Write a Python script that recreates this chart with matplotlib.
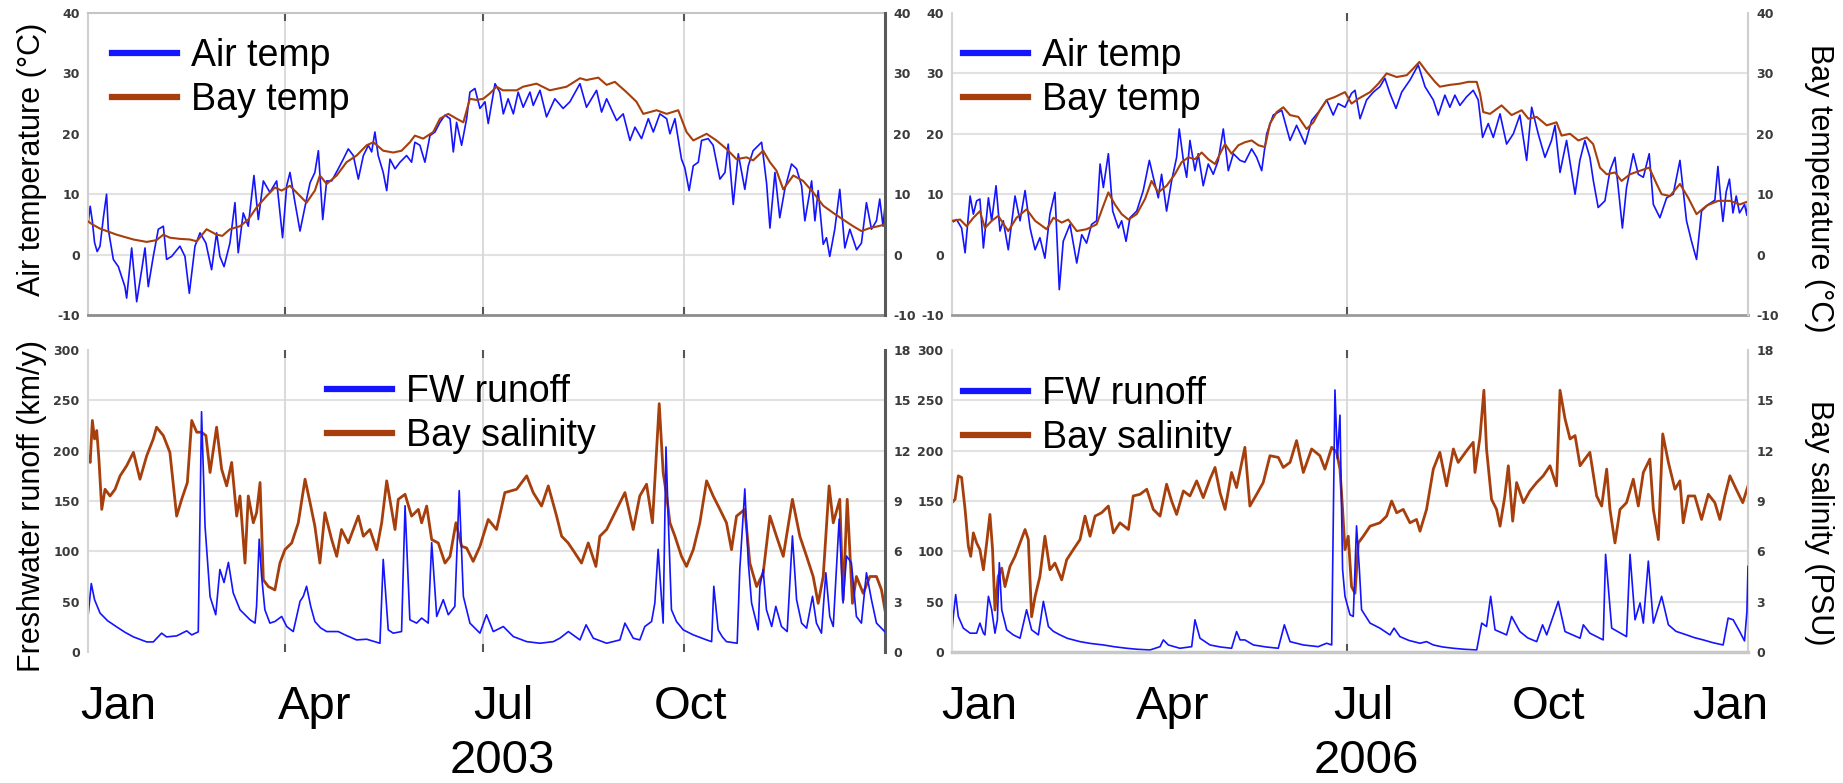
"""Air/bay temperature and runoff/salinity panels for 2003 and 2006."""

import matplotlib

matplotlib.use("Agg")
import numpy as np
from matplotlib import pyplot as plt
from matplotlib.lines import Line2D

# (day of year, value)
air_2003 = [
    (0, 5.0), (1, 8.0), (2, 5.5), (3, 2.0), (4.2, 0.5), (5.5, 1.4), (7, 6.0), (8.5, 10.0), (9.3, 4.2),
    (11.6, -0.8), (13.9, -2.0), (16.9, -5.3), (17.7, -7.2), (20, 1.1), (22.3, -7.8), (24.6, -2.5),
    (26.1, 1.1), (27.6, -5.3), (29.9, -0.3), (32.2, 4.2), (34.5, 4.7), (36, -0.8), (38.3, -0.3),
    (42.1, 1.4), (44.4, -0.3), (46.4, -6.4), (49, 1.4), (51.3, 3.6), (54, 1.9), (56.6, -2.5),
    (58.9, 3.6), (60.4, -0.3), (62.3, -2.0), (65, 1.9), (67.3, 8.6), (68.8, 0.3), (71.1, 6.9),
    (73.4, 4.7), (76, 13.1), (78, 5.8), (80.3, 12.2), (83.3, 10.3), (86.4, 12.2), (89.1, 2.8),
    (91, 11.4), (92.5, 13.6), (94.8, 8.6), (97.1, 3.9), (100.1, 9.2), (101.7, 11.9), (103.9, 13.6),
    (105.5, 17.2), (107.5, 5.8), (109.3, 12.2), (111.6, 12.2), (114.6, 14.2), (116.9, 15.8),
    (119.2, 17.5), (121.5, 16.4), (123.8, 12.5), (126.1, 16.4), (128.4, 18.1), (129.9, 17.0),
    (131.4, 20.3), (132.9, 16.4), (135.2, 13.6), (136.8, 10.6), (138.3, 15.8), (140.6, 14.2),
    (142.9, 15.3), (145.9, 16.4), (148.2, 15.3), (149.7, 18.6), (152, 18.1), (154.3, 15.3),
    (156.6, 19.7), (158.9, 20.3), (161.2, 21.9), (163.5, 23.1), (165.8, 22.5), (167.3, 17.0),
    (168.8, 21.9), (171.1, 18.1), (173.4, 22.5), (174.9, 26.9), (177.2, 27.5), (179.5, 24.2),
    (181.8, 25.3), (183.3, 21.7), (186.4, 28.3), (188.6, 26.9), (190.2, 23.3), (192.4, 25.8),
    (194.8, 23.3), (197, 26.9), (199.3, 24.4), (202.4, 26.9), (203.9, 24.7), (207, 27.2),
    (210, 22.8), (213.8, 25.8), (217.6, 24.2), (220.7, 25.3), (225.3, 28.3), (228.3, 24.4),
    (232.9, 27.2), (235.2, 23.6), (237.5, 25.8), (242.1, 22.2), (245.1, 23.3), (248.2, 18.9),
    (250.5, 21.1), (253.5, 19.2), (256.6, 22.5), (258.9, 20.3), (261.9, 23.3), (265, 22.5),
    (266.5, 20.0), (268.8, 22.5), (271.8, 15.8), (273.3, 14.4), (275.3, 10.6), (277.2, 14.7),
    (279.5, 15.3), (281, 18.9), (284, 19.2), (286.3, 18.1), (289.4, 12.5), (291.7, 13.6),
    (293.2, 18.3), (295.5, 8.3), (297.8, 16.7), (300.8, 10.8), (302.4, 14.7), (304.6, 17.2),
    (308.5, 18.6), (310.8, 11.7), (312.3, 4.4), (314.6, 13.6), (316.8, 6.1), (319.1, 10.8),
    (322.2, 15.0), (324.5, 14.2), (326.8, 11.4), (328.3, 5.6), (331.4, 12.2), (332.9, 5.6),
    (334.4, 10.6), (336.7, 1.7), (338.2, 2.8), (339.7, -0.3), (342, 4.2), (344.3, 10.8),
    (346.6, 1.1), (348.9, 4.2), (352, 0.8), (354.2, 1.9), (356.5, 8.6), (358.8, 4.2),
    (361.1, 5.6), (362.6, 9.2), (364.1, 4.7), (365, 8.1),
]
bay_2003 = [
    (0, 5.5), (2, 5.0), (5.5, 4.3), (13.1, 3.3), (20.8, 2.5), (26.9, 2.1), (31.4, 2.4), (34.5, 3.3),
    (37.5, 2.8), (42.1, 2.6), (46.7, 2.5), (49.8, 2.2), (54.3, 4.2), (58.9, 3.3), (61.5, 3.1),
    (65, 4.2), (69.6, 4.7), (73.4, 5.8), (77.2, 7.8), (81.8, 9.7), (85.6, 11.1), (88.7, 10.6),
    (92.5, 11.4), (97.1, 9.7), (100.1, 8.6), (103.9, 10.6), (106.2, 13.1), (109.3, 11.7),
    (113.9, 13.1), (118.4, 15.3), (123, 16.4), (127.6, 18.1), (130.7, 18.6), (135.2, 17.2),
    (139.8, 16.9), (143.6, 17.2), (147.4, 18.6), (149.7, 19.7), (153.5, 19.2), (158.1, 20.3),
    (161.2, 22.5), (165, 23.3), (168.8, 22.5), (171.9, 21.9), (174.9, 25.8), (177.9, 25.6),
    (181, 25.8), (184.1, 26.7), (187.1, 27.8), (190, 27.2), (196.3, 27.2), (199.3, 27.8),
    (205.4, 28.3), (211.5, 27.2), (219.2, 27.8), (225.3, 29.2), (228.3, 28.9), (233.7, 29.3),
    (237.5, 28.1), (241.3, 28.6), (246.6, 26.9), (251.2, 25.3), (254.3, 23.3), (260.4, 23.9),
    (265, 23.3), (270.3, 23.9), (274.1, 20.3), (277.2, 18.9), (283.3, 20.0), (287.8, 18.9),
    (292.4, 17.5), (297, 15.8), (301.6, 16.1), (304.6, 15.6), (309.2, 17.2), (312.3, 15.3),
    (315.3, 13.9), (318.4, 10.8), (323, 13.1), (327.5, 12.2), (332.1, 10.3), (336.7, 8.1),
    (341.3, 6.9), (345.8, 5.8), (350.4, 4.7), (354.2, 3.9), (358.1, 4.4), (361.9, 4.7), (365, 5.0),
]
runoff_2003 = [
    (0, 35), (1.5, 68), (3, 52), (5.5, 38.7), (9, 31), (13.1, 25), (17, 19.5), (20.8, 15),
    (26.9, 10), (29.9, 10), (33.7, 18.7), (36, 15), (40.6, 16), (45.2, 21), (47.5, 17), (50.5, 20),
    (52, 238.7), (53.6, 125), (55.9, 55), (58.5, 37), (60.4, 82), (62.3, 69), (64.3, 89),
    (66.5, 58.7), (69.6, 42), (74.2, 32), (76.5, 28.7), (77.2, 45.3), (78.4, 112), (79.5, 75.3),
    (81, 42), (83.3, 28.7), (85.6, 30.3), (88.7, 35.3), (91, 25.3), (94, 20.3), (97.1, 50.3),
    (98.6, 55.3), (100.1, 65.3), (102, 45.3), (103.9, 30.3), (106.5, 24), (109.3, 20.3),
    (114.6, 20.3), (117.7, 17), (123, 12), (127.6, 12.7), (133.7, 8.7), (135.2, 92), (137.5, 22),
    (139.8, 18.7), (143.6, 20.3), (145.2, 145.3), (147.4, 32), (150.5, 28.7), (152.8, 33.7),
    (155.8, 28.7), (157.4, 108.7), (159.7, 35.3), (162.7, 52), (165, 37), (168, 45.3),
    (170, 160.3), (171.9, 55.3), (174.9, 28.7), (179.5, 18.7), (182.5, 37), (185.6, 20.3),
    (190.2, 25.3), (194.8, 15.3), (200.9, 10.3), (207, 8.7), (213.1, 10.3), (216.1, 13.7),
    (220, 20.3), (225.3, 12), (228.1, 27), (231.4, 13.7), (237.5, 8.7), (243.6, 12),
    (245.9, 28.7), (249.7, 13.7), (252.7, 12), (255, 25.3), (258.1, 30.3), (259.6, 48.7),
    (261.1, 102), (263.4, 28.7), (264.7, 203.7), (265.7, 135.3), (267.2, 42), (269.5, 30.3),
    (272.6, 22), (277.2, 17), (283.3, 12), (285.6, 10.3), (286.6, 65.3), (288.6, 22),
    (290.5, 15), (292.4, 10.3), (297.3, 8.7), (298.5, 82), (300.8, 162), (302.4, 88.7),
    (303.9, 48.7), (306.9, 22), (307.7, 65.3), (309.2, 82), (310.7, 42), (313.1, 25.3),
    (315, 45.3), (317.6, 25.3), (320.2, 20.3), (322.6, 115.3), (324.5, 52), (326.8, 28.7),
    (329.1, 23.7), (331.8, 55.3), (333.6, 28.7), (335.9, 18.7), (337.9, 78.7), (339.7, 35.3),
    (341.3, 25.3), (344, 132), (345.8, 48.7), (347.4, 95.3), (349.6, 88.7), (351.9, 35.3),
    (354.2, 28.7), (356.5, 78.7), (358.8, 52), (361.1, 28.7), (364.1, 22), (365, 20),
]
salinity_2003 = [
    (0, 11.7), (1, 11.3), (2, 13.8), (3, 12.7), (4, 13.2), (5, 11.5), (6.3, 8.5), (7.8, 9.7),
    (10.1, 9.3), (12.4, 9.7), (14.7, 10.5), (17.7, 11.1), (20.8, 11.9), (23.8, 10.3), (26.9, 11.7),
    (29.9, 12.7), (31.4, 13.4), (34.5, 12.9), (37.5, 11.9), (40.6, 8.1), (42.9, 9.1), (45.5, 10.1),
    (47.5, 13.8), (49.8, 13.1), (52, 13.1), (54, 12.9), (55.9, 10.7), (58.9, 13.4), (61.2, 10.9),
    (63.5, 9.9), (65.8, 11.3), (68.1, 8.1), (69.6, 9.3), (71.9, 5.3), (73.4, 9.3), (75.7, 7.7),
    (77.2, 8.3), (78.8, 10.1), (80.3, 4.3), (82.6, 3.9), (85.6, 3.7), (87.9, 5.3), (90.2, 6.1),
    (93.3, 6.5), (96.3, 7.7), (99.4, 10.3), (101.7, 8.9), (103.9, 7.5), (106.2, 5.3), (108.5, 8.3),
    (111.6, 6.7), (113.9, 5.7), (116.1, 7.3), (119.2, 6.5), (121.5, 7.3), (123.8, 8.1),
    (126.1, 6.9), (129.1, 7.3), (132.2, 6.1), (134.5, 7.7), (136.8, 10.2), (139, 8.5),
    (140.6, 7.3), (142.1, 9.1), (145.2, 9.4), (148.2, 8.1), (151.3, 8.5), (152.8, 7.7),
    (155.1, 8.7), (157.4, 6.7), (160.4, 6.5), (163.5, 5.3), (165.8, 5.7), (168.5, 7.7),
    (171.1, 6.3), (173.4, 6.2), (176.4, 5.4), (179.5, 6.3), (183.3, 7.9), (187.1, 7.3),
    (190.9, 9.5), (196.3, 9.7), (200.9, 10.5), (203.9, 9.5), (207.7, 8.7), (210.8, 9.9),
    (214.6, 8.1), (216.9, 6.9), (219.9, 6.5), (223, 5.9), (226, 5.3), (229.1, 6.5), (232.6, 5.1),
    (234.4, 6.9), (237.5, 7.3), (242.1, 8.5), (245.9, 9.5), (249.7, 7.3), (252.7, 9.3),
    (255.8, 10.0), (258.5, 7.7), (260.4, 12.1), (261.6, 14.8), (263.4, 10.7), (265, 9.3),
    (266.5, 7.7), (268.8, 6.9), (271.8, 5.7), (274.1, 5.1), (277.2, 6.1), (280.2, 7.7),
    (283.3, 10.2), (286.3, 9.3), (289.4, 8.5), (292.4, 7.7), (294.7, 6.1), (297, 8.1),
    (300.8, 8.5), (303.1, 5.3), (306.2, 3.9), (309.2, 4.7), (312.3, 8.1), (315.3, 6.9),
    (318.4, 5.7), (322.6, 9.1), (326, 6.9), (329.1, 5.7), (332.1, 4.5), (334.4, 2.9),
    (336.7, 4.5), (339.4, 9.9), (341.3, 7.7), (344.3, 9.1), (345.8, 3.1), (347.7, 9.1),
    (350.1, 2.9), (351.9, 4.5), (355, 3.5), (358.1, 4.5), (361.1, 4.5), (363.4, 3.7), (365, 2.5),
]
air_2006 = [
    (0, 5.3), (2.1, 5.8), (4.4, 4.4), (6, 0.3), (8.3, 9.7), (9.8, 6.7), (11.3, 8.9), (12.8, 9.2),
    (14.4, 1.1), (16.7, 9.4), (18.2, 5.6), (20.2, 11.4), (22, 3.9), (23.5, 5.6), (25.8, 0.8),
    (28.9, 9.7), (31.2, 5.6), (33.5, 10.6), (35.8, 4.4), (38.1, 0.8), (40.3, 2.8), (42.6, -0.6),
    (44.9, 6.7), (47.2, 10.3), (49.2, -5.8), (51, 2.2), (54.1, 5.0), (57.2, -1.4), (59.5, 3.3),
    (61.7, 1.9), (64, 5.0), (66.3, 5.6), (67.9, 15.0), (69.4, 11.1), (71.7, 16.7), (73.7, 7.2),
    (76.3, 4.4), (77.8, 5.6), (79.8, 2.2), (81.6, 6.1), (84.7, 7.2), (87.7, 10.6), (90.5, 15.6),
    (92.3, 12.8), (94.6, 9.4), (96.1, 13.3), (98.4, 7.2), (100.7, 12.2), (103, 16.1),
    (104.2, 20.8), (106.1, 15.6), (107.6, 12.8), (109.1, 18.9), (111.4, 13.9), (112.9, 16.7),
    (115.2, 11.4), (117.5, 15.0), (119.8, 13.3), (122.1, 15.6), (124.4, 20.8), (126.7, 13.9),
    (129, 16.7), (132.1, 15.6), (134.3, 15.3), (137.4, 17.5), (139.7, 16.1), (142, 13.9),
    (144.3, 20.0), (147.3, 23.1), (151.2, 23.9), (155, 18.9), (158, 21.4), (161.9, 18.3),
    (164.9, 22.2), (168.7, 23.9), (171.8, 25.6), (174.8, 23.1), (177.1, 25.0), (180.2, 24.4),
    (183.2, 26.7), (184.8, 27.2), (187.1, 22.5), (190.1, 25.6), (193.2, 26.9), (196.2, 27.8),
    (198.5, 29.2), (200.8, 26.7), (203.6, 24.2), (206.2, 26.9), (210, 28.9), (213.8, 31.4),
    (216.9, 27.8), (220.7, 25.6), (223, 23.1), (226, 26.4), (228.3, 24.4), (230.6, 26.4),
    (232.9, 24.7), (235.9, 26.1), (239, 27.2), (241.3, 25.6), (243.3, 19.4), (245.9, 21.7),
    (248.2, 19.4), (251.3, 23.3), (254.3, 18.3), (257.4, 20.0), (260.4, 23.1), (263.5, 15.6),
    (265.8, 24.4), (268.8, 20.0), (271.9, 16.1), (274.9, 18.9), (276.5, 21.4), (278.8, 13.6),
    (281.8, 18.9), (285.7, 10.0), (287.9, 15.6), (290.2, 18.9), (292.5, 16.1), (294.1, 12.2),
    (296.3, 7.8), (299.4, 8.9), (301.7, 13.9), (304, 16.1), (305.5, 11.1), (307.4, 4.4),
    (309.3, 11.1), (312.4, 16.7), (314.7, 13.3), (317, 12.8), (319.7, 16.7), (321.6, 8.3),
    (324.6, 6.1), (327.7, 9.4), (330.7, 10.0), (333.8, 15.6), (336.8, 5.6), (339.1, 2.2),
    (341.4, -0.8), (343.7, 7.2), (346.8, 8.3), (349.8, 9.0), (351.2, 14.6), (352.7, 8.3),
    (353.5, 5.5), (355, 10.4), (356.5, 12.5), (358.1, 6.9), (359.6, 9.7), (361.1, 6.9),
    (363.4, 8.3), (364.5, 6.5), (365, 9.4),
]
bay_2006 = [
    (0, 5.6), (3.7, 5.8), (6.7, 4.7), (9.8, 6.1), (12.8, 7.2), (15.1, 4.4), (18.2, 5.6), (21.2, 6.4),
    (25.8, 3.9), (29.6, 6.1), (34.2, 7.5), (38.1, 5.6), (43.4, 4.2), (46.5, 6.1), (50.3, 5.3),
    (53.3, 5.8), (57.2, 3.9), (61.7, 4.2), (66.3, 5.0), (69.1, 7.8), (71.7, 10.3), (74.7, 8.3),
    (77.8, 6.7), (80.9, 5.8), (84.7, 6.7), (88.5, 9.2), (91.5, 12.2), (94.6, 10.3), (98.4, 11.4),
    (102.2, 13.3), (105.3, 15.3), (108.4, 16.1), (111.4, 15.8), (114.5, 16.9), (117.5, 15.8),
    (120.6, 15.0), (123.6, 17.2), (125.2, 18.3), (128.2, 16.7), (131.3, 18.1), (134.3, 18.6),
    (137.4, 18.9), (140.5, 18.1), (143.5, 17.8), (145.8, 21.7), (148.9, 23.6), (151.9, 24.4),
    (155, 23.1), (158.8, 22.8), (162.6, 20.8), (165.7, 21.9), (168.7, 23.9), (171.8, 25.6),
    (175.6, 26.1), (180.2, 26.9), (183.2, 25.0), (186.3, 25.8), (191.7, 26.9), (195.5, 28.3),
    (199.3, 30.0), (203.9, 29.4), (208.5, 29.7), (211.5, 30.8), (214.3, 31.9), (217.6, 30.3),
    (221.5, 28.6), (223.7, 27.8), (228.3, 28.1), (232.9, 28.3), (236.7, 28.6), (240.6, 28.6),
    (242.1, 26.7), (243.6, 23.6), (246.7, 23.3), (252, 24.7), (256.6, 23.1), (261.2, 23.9),
    (264.3, 22.5), (268.1, 22.8), (272.7, 21.4), (277.2, 21.9), (279.5, 19.7), (283.4, 20.0),
    (287.2, 18.9), (291, 19.4), (294, 18.3), (297.1, 14.4), (300.2, 13.3), (304, 13.6),
    (307, 12.2), (310.9, 13.3), (315.6, 13.9), (319.7, 14.4), (323.1, 11.7), (325.4, 10.0),
    (329.2, 9.7), (333.8, 11.7), (337.6, 9.4), (341.4, 6.7), (346, 8.1), (351.3, 8.9),
    (356.7, 8.9), (361.2, 8.3), (365, 8.8),
]
runoff_2006 = [
    (0, 20.3), (0.6, 35.3), (1.7, 57), (2.9, 35.3), (5.2, 23.7), (8.3, 18.7), (11.3, 18.7),
    (12.8, 28.7), (14.4, 18.7), (15.1, 17), (16.7, 55.3), (18.2, 42), (19.7, 18.7), (20.8, 32),
    (21.7, 88.7), (22.8, 42), (25.1, 22), (28.1, 17), (31.2, 13.7), (34.2, 42), (36.5, 22),
    (39.6, 17), (41.9, 50.3), (44.2, 25.3), (46.5, 20.5), (49.5, 17), (53, 13.5), (58.7, 10.3),
    (63.5, 8.5), (69.4, 7), (74.5, 5.2), (80.1, 3.7), (85, 2.7), (90.8, 2), (95.4, 5.3),
    (96.9, 12), (99.2, 7), (104.5, 3.7), (109.9, 5.3), (111.4, 32), (113.7, 13.7), (118.3, 7),
    (123, 5), (128.2, 3.7), (130.5, 20.3), (132.1, 12), (134.3, 12), (138.2, 7), (144, 5),
    (149.6, 3.7), (152.4, 27), (155, 10.3), (161.1, 7), (167.9, 5.3), (171.8, 8.7), (174.1, 7),
    (175.6, 260.3), (176.7, 192), (177.9, 235.3), (179.1, 82), (180.2, 55.3), (182.5, 37),
    (184, 35.3), (185.5, 125.3), (186.8, 82), (187.8, 42), (191.7, 28.7), (196.2, 23.7),
    (200.8, 17), (202.7, 23.7), (205.4, 15.3), (209.5, 11.5), (214.6, 8.7), (217.6, 10.3),
    (220.7, 7), (225, 5), (229.9, 3.7), (235, 2.7), (240.6, 2), (242.9, 28.7), (245.1, 25.3),
    (247, 55.3), (249, 22), (254.3, 17), (256.6, 35.3), (260.4, 20.3), (264, 14), (268.1, 10.3),
    (270.8, 27), (272.7, 17), (278, 50.3), (281.1, 20.3), (288, 13.7), (289.5, 27), (292.5, 18.7),
    (298.6, 12), (299.7, 97), (302.5, 23.7), (309.3, 15.3), (310.9, 97), (313.2, 32),
    (315.5, 48.7), (317, 28.7), (319.3, 90.3), (321.6, 28.7), (325.4, 55.3), (328.5, 27),
    (332, 20.5), (336.8, 17), (340.5, 14.2), (344.5, 12), (349, 9.2), (353.6, 7), (355.9, 33.7),
    (358.2, 32), (361.2, 20.3), (363.4, 11), (364.5, 40), (365, 85),
]
salinity_2006 = [
    (0, 8.9), (1.4, 9.1), (2.9, 10.5), (4.4, 10.4), (6, 8.5), (7.5, 6.3), (8.6, 5.7), (9.8, 7.1),
    (11.3, 6.5), (12.8, 6.1), (14.4, 4.9), (15.9, 6.5), (17.4, 8.2), (18.6, 6.1), (19.7, 2.5),
    (21.2, 4.5), (22.8, 5.0), (24.3, 3.9), (26.6, 5.1), (28.9, 5.7), (31.2, 6.5), (33.5, 7.3),
    (35, 6.7), (36.5, 2.1), (38.1, 3.3), (40.3, 4.5), (42.6, 6.9), (44.9, 4.9), (47.2, 5.3),
    (50.3, 4.3), (52.6, 5.5), (55.6, 6.1), (58.7, 6.7), (61, 8.1), (63.3, 6.9), (65.6, 8.1),
    (68.6, 8.3), (71.7, 8.7), (74, 7.1), (77, 7.7), (80.9, 7.3), (83.1, 9.3), (86.2, 9.4),
    (89.3, 9.7), (92.3, 8.5), (95.4, 8.1), (98.4, 10.0), (100.7, 9.0), (103, 8.2), (106.1, 9.6),
    (109.1, 9.3), (112.2, 10.2), (115.2, 9.2), (118.3, 10.3), (120.6, 11.0), (122.9, 9.5),
    (125.2, 8.5), (128.2, 10.7), (130.5, 9.8), (134.3, 12.2), (136.6, 8.7), (139.7, 9.4),
    (142.7, 10.1), (145.8, 11.7), (149.6, 11.6), (151.9, 11.0), (155, 11.3), (158, 12.6),
    (161.1, 10.7), (164.9, 12.1), (168.7, 11.7), (171, 10.9), (174.1, 12.2), (176.4, 11.9),
    (177.9, 10.9), (179.1, 8.5), (180.2, 6.1), (181.7, 6.9), (183.2, 3.9), (184.8, 3.5),
    (186.3, 6.5), (188.6, 6.9), (191.7, 7.5), (196.2, 7.7), (199.3, 8.1), (201.6, 9.0),
    (203.9, 8.3), (206.9, 8.5), (210, 7.7), (213, 7.9), (214.6, 7.2), (217.6, 8.5), (220.7, 10.9),
    (223.7, 11.9), (226.8, 9.9), (229.9, 12.1), (232.1, 11.3), (236, 12.0), (239, 12.5),
    (239.8, 10.7), (242.1, 12.8), (243.9, 15.6), (245.1, 12.1), (247.4, 9.1), (249.7, 8.5),
    (251.3, 7.5), (253.5, 9.3), (255.1, 11.1), (257.1, 7.8), (258.9, 10.1), (262, 8.9),
    (265, 9.6), (268.1, 10.1), (271.1, 10.5), (274.2, 11.1), (277.2, 9.9), (278.8, 15.6),
    (281.1, 13.9), (283.4, 12.7), (285.7, 12.9), (288, 11.1), (290.2, 11.5), (292.5, 11.9),
    (295.6, 9.3), (297.9, 8.7), (300.2, 10.9), (301.7, 8.5), (304, 6.5), (306.3, 8.5),
    (309.3, 8.9), (312.4, 10.3), (314.7, 8.7), (317, 10.7), (320, 11.5), (321.6, 8.5),
    (323.9, 6.7), (325.9, 13.0), (328.5, 11.3), (331.5, 9.7), (333.8, 10.2), (335.3, 7.7),
    (337.6, 9.3), (340.6, 9.3), (343.7, 7.9), (346.8, 9.4), (349.8, 8.9), (352.1, 7.9),
    (354.4, 9.3), (356.7, 10.5), (359.6, 9.7), (362.6, 8.9), (365, 9.9),
]

month_labels_2003 = ["Jan", "Apr", "Jul", "Oct"]
month_labels_2006 = ["Jan", "Apr", "Jul", "Oct", "Jan"]
years = ["2003", "2006"]

temp_ticks = [-10, 0, 10, 20, 30, 40]
runoff_ticks = [0, 50, 100, 150, 200, 250, 300]
salinity_ticks = [0, 3, 6, 9, 12, 15, 18]

BLUE = "#1414ff"
BROWN = "#a63f0c"
W, H = 1843, 783


def unzip(pairs):
    d, v = zip(*pairs)
    return np.array(d), np.array(v)


def px_axes(fig, x0, y0, x1, y1):
    return fig.add_axes([x0 / W, 1 - y1 / H, (x1 - x0) / W, (y1 - y0) / H])


def style_ticks(ax, ticks, side):
    ax.set_yticks(ticks, labels=[str(t) for t in ticks], fontsize=9,
                  fontweight="bold", color="#3a3a3a", family="DejaVu Sans")
    ax.tick_params(axis="y", which="both", length=0, pad=6,
                   left=(side == "left"), right=(side == "right"),
                   labelleft=(side == "left"), labelright=(side == "right"))


def setup_x(ax, vgrid):
    ax.set_xlim(0, 365)
    ax.set_xticks(vgrid)
    ax.tick_params(axis="x", direction="in", length=6, width=1.5, color="#555555",
                   top=True, bottom=True, labelbottom=False)


def draw_panel(ax, tw, blue, brown, host_lim, host_ticks, twin_lim, twin_ticks,
               hgrid, vgrid, grid_ax, spines, blue_on_top, brown_lw):
    d1, v1 = unzip(blue)
    d2, v2 = unzip(brown)
    ax.plot(d1, v1, color=BLUE, lw=1.2)
    tw.plot(d2, v2, color=BROWN, lw=brown_lw)
    ax.set_ylim(*host_lim)
    tw.set_ylim(*twin_lim)
    style_ticks(ax, host_ticks, "left")
    style_ticks(tw, twin_ticks, "right")
    setup_x(ax, vgrid)
    tw.tick_params(axis="x", length=0)
    for v in hgrid:
        grid_ax.axhline(v, color="#e2e2e2", lw=1.5, zorder=0)
    for d in vgrid:
        grid_ax.axvline(d, color="#d8d8d8", lw=1.3, zorder=0)
    for s in ["top", "bottom", "left", "right"]:
        ax.spines[s].set_visible(False)
        tw.spines[s].set_visible(False)
    for s, (c, lw) in spines.items():
        owner = tw if s == "right" else ax
        owner.spines[s].set_visible(True)
        owner.spines[s].set_color(c)
        owner.spines[s].set_linewidth(lw)
    if blue_on_top:
        ax.set_zorder(tw.get_zorder() + 1)
        ax.patch.set_visible(False)


def add_legend(ax, labels, x, y):
    handles = [Line2D([], [], color=BLUE, lw=4.5), Line2D([], [], color=BROWN, lw=4.5)]
    leg = ax.legend(handles, labels, loc="upper left", bbox_to_anchor=(x / W, 1 - y / H),
                    bbox_transform=ax.figure.transFigure, frameon=False, borderpad=0,
                    borderaxespad=0, handlelength=1.72, handletextpad=0.38,
                    labelspacing=0.22, prop={"family": "Liberation Sans", "size": 27})
    leg.set_zorder(20)


fig = plt.figure(figsize=(W / 100, H / 100), dpi=100)

# 2003 air / bay temperature
ax = px_axes(fig, 88, 13, 885, 315)
tw = ax.twinx()
draw_panel(ax, tw, air_2003, bay_2003, (-10, 40), temp_ticks, (-10, 40), temp_ticks,
           [0, 10], [90, 181, 273], ax,
           {"top": ("#c4c4c4", 1.5), "left": ("#cfcfcf", 1.5),
            "bottom": ("#8c8c8c", 2.0), "right": ("#5a5a5a", 2.2)}, False, 1.5)
add_legend(tw, ["Air temp", "Bay temp"], 112, 38)

# 2003 runoff / salinity
ax = px_axes(fig, 88, 350, 885, 652)
tw = ax.twinx()
draw_panel(ax, tw, runoff_2003, salinity_2003, (0, 300), runoff_ticks, (0, 18), salinity_ticks,
           [6, 9, 12, 15], [90, 181, 273], tw,
           {"left": ("#d4d4d4", 1.5), "right": ("#5a5a5a", 2.2)}, True, 2.0)
add_legend(ax, ["FW runoff", "Bay salinity"], 327, 374)

# 2006 air / bay temperature
ax = px_axes(fig, 952, 13, 1748, 315)
tw = ax.twinx()
draw_panel(ax, tw, air_2006, bay_2006, (-10, 40), temp_ticks, (-10, 40), temp_ticks,
           [10, 20, 30], [181], ax,
           {"left": ("#d4d4d4", 1.5), "bottom": ("#9a9a9a", 2.0),
            "right": ("#cfcfcf", 1.5)}, False, 1.5)
add_legend(tw, ["Air temp", "Bay temp"], 963, 38)

# 2006 runoff / salinity
ax = px_axes(fig, 952, 350, 1748, 652)
tw = ax.twinx()
draw_panel(ax, tw, runoff_2006, salinity_2006, (0, 300), runoff_ticks, (0, 18), salinity_ticks,
           [3, 6, 9, 12, 15], [181], tw,
           {"left": ("#dcdcdc", 1.5), "bottom": ("#c8c8c8", 2.5),
            "right": ("#cfcfcf", 1.5)}, True, 2.0)
add_legend(ax, ["FW runoff", "Bay salinity"], 963, 376)

# axis titles
lab = dict(family="Liberation Sans", fontsize=22, ha="center", va="center")
fig.text(32 / W, 1 - 159 / H, "Air temperature (°C)", rotation=90, **lab)
fig.text(32 / W, 1 - 506 / H, "Freshwater runoff (km/y)", rotation=90, **lab)
fig.text(1819 / W, 1 - 188 / H, "Bay temperature (°C)", rotation=270, **lab)
fig.text(1819 / W, 1 - 523 / H, "Bay salinity (PSU)", rotation=270, **lab)

# hand-placed month and year labels
big = dict(family="Liberation Sans", fontsize=34, ha="center")
for name, x in zip(month_labels_2003, [118, 315, 503, 690]):
    fig.text(x / W, 1 - 707 / H, name, va="center", **big)
for name, x in zip(month_labels_2006, [979, 1173, 1363, 1549, 1730]):
    fig.text(x / W, 1 - 707 / H, name, va="center", **big)
for name, x in zip(years, [502, 1366]):
    fig.text(x / W, 1 - 773 / H, name, va="baseline", **big)

fig.savefig("out.png", dpi=100)
